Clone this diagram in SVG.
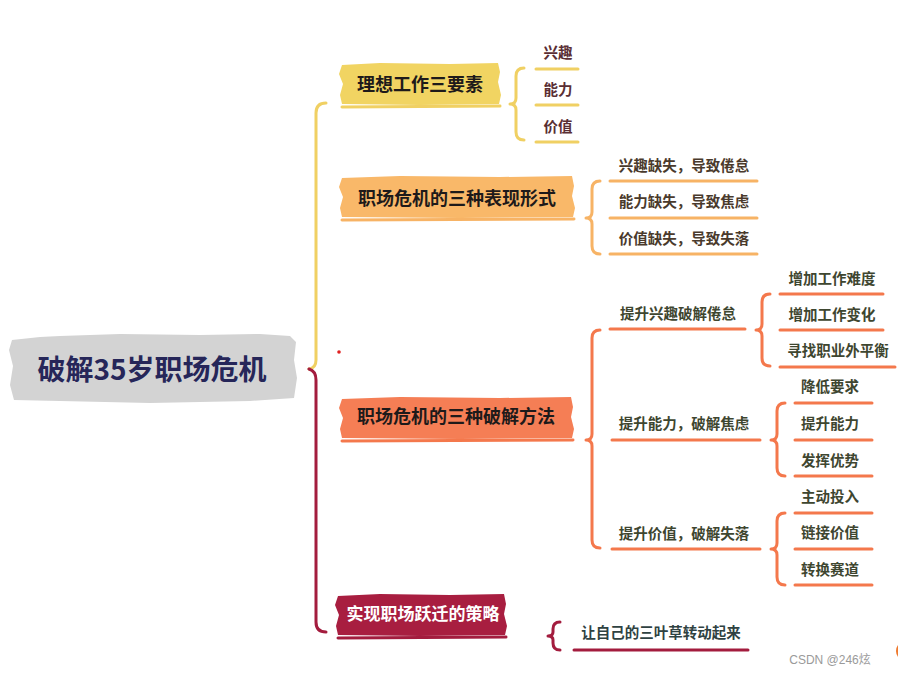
<svg xmlns="http://www.w3.org/2000/svg" width="898" height="674" viewBox="0 0 898 674">
<style>
text{font-family:"Noto Sans CJK SC","Noto Sans",sans-serif;text-anchor:middle}
.l1{font-size:18px;font-weight:700;fill:#1e1a1a}
.lf{font-size:14.5px;font-weight:600}
.br{fill:none;stroke-width:3;stroke-linecap:round;stroke-linejoin:round}
.ul{fill:none;stroke-width:3;stroke-linecap:round}
.y{stroke:#f0d063}.o{stroke:#f7b365}.c{stroke:#f4784c}.r{stroke:#a31c3e}
.ty{fill:#5a2e34}.to{fill:#4a3a2c}.tc{fill:#3e4630}.tr{fill:#2f4242}
</style>
<rect width="898" height="674" fill="#fff"/>
<g id="connectors">
<path class="br y" d="M326 103 Q316 103 316 113 L316 360 Q316 368 309 369"/>
<path class="br r" d="M309 369 Q316 371 316 380 L316 622 Q316 632 326 632"/>
<path class="br y" d="M524 68 Q516 68 516 76 L516 98 Q516 104 510 104 Q516 104 516 110 L516 132 Q516 140 524 140"/>
<path class="br o" d="M600 181 Q592 181 592 189 L592 212 Q592 218 586 218 Q592 218 592 224 L592 246 Q592 254 600 254"/>
<path class="br c" d="M600 330 Q592 330 592 338 L592 434 Q592 440 586 440 Q592 440 592 446 L592 540 Q592 548 600 548"/>
<path class="br c" d="M770 294 Q762 294 762 302 L762 324 Q762 330 756 330 Q762 330 762 336 L762 358 Q762 366 770 366"/>
<path class="br c" d="M785 403 Q777 403 777 411 L777 434 Q777 440 771 440 Q777 440 777 446 L777 468 Q777 476 785 476"/>
<path class="br c" d="M785 513 Q777 513 777 521 L777 543 Q777 549 771 549 Q777 549 777 555 L777 577 Q777 585 785 585"/>
<path class="br r" d="M560 622 Q553 622 553 629 L553 632 Q553 636 548 636 Q553 636 553 640 L553 643 Q553 650 560 650" stroke-width="3.5"/>
</g>
<g id="root">
<path d="M12 340 L40 337 L60 336 L120 334 L200 335 L260 334 L290 336 L296 342 L294 360 L297 378 L294 398 L250 401 L150 403 L60 401 L14 400 L10 385 L13 366 L9 350 Z" fill="#d3d3d3"/>
<text x="152" y="380" style="font-size:28px;font-weight:700;fill:#262659">破解35岁职场危机</text>
</g>
<g id="n1">
<path d="M342 65 L380 63 L450 64 L498 63 L500 72 L498 82 L501 95 L499 104 L420 105 L342 104 L340 95 L343 84 L339 74 Z" fill="#f1d462"/>
<path class="ul y" d="M342 107 L500 106" stroke-width="2"/>
<text class="l1" x="420" y="90.5">理想工作三要素</text>
</g>
<g id="n1a"><text class="lf ty" x="558" y="58">兴趣</text><path class="ul y" d="M536 69 L578 69"/></g>
<g id="n1b"><text class="lf ty" x="558" y="95">能力</text><path class="ul y" d="M536 105 L578 105"/></g>
<g id="n1c"><text class="lf ty" x="558" y="132">价值</text><path class="ul y" d="M536 142 L578 142"/></g>
<g id="n2">
<path d="M342 178 L400 176 L500 177 L572 176 L574 186 L572 196 L575 208 L573 217 L460 218 L342 217 L340 208 L343 197 L339 187 Z" fill="#f9b869"/>
<path class="ul o" d="M342 220 L574 219" stroke-width="2"/>
<text class="l1" x="457" y="204.5">职场危机的三种表现形式</text>
</g>
<g id="n2a"><text class="lf to" x="684" y="171">兴趣缺失，导致倦怠</text><path class="ul o" d="M610 181 L757 181"/></g>
<g id="n2b"><text class="lf to" x="684" y="207">能力缺失，导致焦虑</text><path class="ul o" d="M610 218 L757 218"/></g>
<g id="n2c"><text class="lf to" x="684" y="244">价值缺失，导致失落</text><path class="ul o" d="M610 254 L757 254"/></g>
<g id="n3">
<path d="M342 399 L400 397 L500 398 L571 397 L573 407 L571 417 L574 429 L572 438 L460 439 L342 438 L340 429 L343 418 L339 408 Z" fill="#f57e55"/>
<path class="ul c" d="M342 441 L573 440" stroke-width="2"/>
<text class="l1" x="456" y="422.5">职场危机的三种破解方法</text>
</g>
<g id="n3a"><text class="lf tc" x="678" y="319">提升兴趣破解倦怠</text><path class="ul c" d="M610 329 L745 329"/></g>
<g id="n3a1"><text class="lf tc" x="832" y="284">增加工作难度</text><path class="ul c" d="M780 294 L883 294"/></g>
<g id="n3a2"><text class="lf tc" x="832" y="320">增加工作变化</text><path class="ul c" d="M780 330 L883 330"/></g>
<g id="n3a3"><text class="lf tc" x="838" y="356">寻找职业外平衡</text><path class="ul c" d="M780 367 L895 367"/></g>
<g id="n3b"><text class="lf tc" x="684" y="429">提升能力，破解焦虑</text><path class="ul c" d="M612 440 L760 440"/></g>
<g id="n3b1"><text class="lf tc" x="830" y="392">降低要求</text><path class="ul c" d="M795 403 L872 403"/></g>
<g id="n3b2"><text class="lf tc" x="830" y="429">提升能力</text><path class="ul c" d="M795 440 L872 440"/></g>
<g id="n3b3"><text class="lf tc" x="830" y="466">发挥优势</text><path class="ul c" d="M795 476 L872 476"/></g>
<g id="n3c"><text class="lf tc" x="684" y="539">提升价值，破解失落</text><path class="ul c" d="M612 549 L760 549"/></g>
<g id="n3c1"><text class="lf tc" x="830" y="502">主动投入</text><path class="ul c" d="M795 513 L872 513"/></g>
<g id="n3c2"><text class="lf tc" x="830" y="538">链接价值</text><path class="ul c" d="M795 549 L872 549"/></g>
<g id="n3c3"><text class="lf tc" x="830" y="575">转换赛道</text><path class="ul c" d="M795 585 L872 585"/></g>
<g id="n4">
<path d="M338 596 L380 594 L450 595 L504 594 L506 604 L504 614 L507 626 L505 635 L420 636 L338 635 L336 626 L339 615 L335 605 Z" fill="#a81e40"/>
<path class="ul r" d="M338 638 L506 637" stroke-width="2"/>
<text class="l1" x="423" y="620" style="font-size:17px;fill:#fff">实现职场跃迁的策略</text>
</g>
<g id="n4a"><text class="lf tr" x="661" y="638">让自己的三叶草转动起来</text><path class="ul r" d="M574 650 L748 650"/></g>
<circle cx="339" cy="352" r="1.8" fill="#e02020"/>
<circle cx="906" cy="651" r="10" fill="#ef7a2e"/>
<text x="830" y="664" style="font-family:'Liberation Sans','Noto Sans CJK SC',sans-serif;font-size:12px;fill:#9a9a9a">CSDN @246炫</text>
</svg>
